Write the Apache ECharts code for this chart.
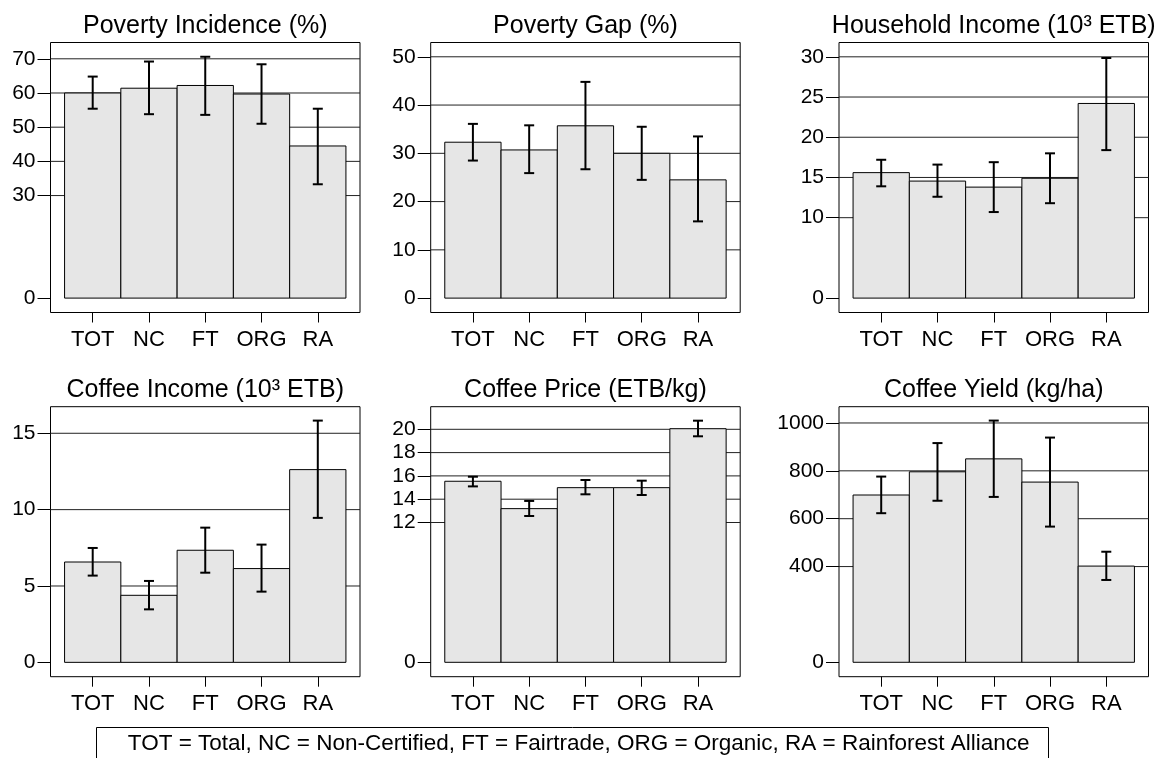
<!DOCTYPE html>
<html>
<head>
<meta charset="utf-8">
<script src="https://cdn.jsdelivr.net/npm/echarts@6/dist/echarts.min.js"></script>
<style>
html,body{margin:0;padding:0;background:#fff;}
#chart{width:1160px;height:758px;}
</style>
</head>
<body>
<div id="chart"></div>
<script>
const categories = ['TOT', 'NC', 'FT', 'ORG', 'RA'];
const legendText = 'TOT = Total, NC = Non-Certified, FT = Fairtrade, ORG = Organic, RA = Rainforest Alliance';

const povertyIncidence     = [60.0, 61.4, 62.2, 59.7, 44.5];
const povertyIncidenceLow  = [55.4, 53.8, 53.6, 51.0, 33.3];
const povertyIncidenceHigh = [64.8, 69.2, 70.6, 68.4, 55.4];
const povertyIncidenceTicks = [0, 30, 40, 50, 60, 70];

const povertyGap     = [32.3, 30.7, 35.7, 30.0, 24.5];
const povertyGapLow  = [28.5, 25.9, 26.7, 24.5, 15.9];
const povertyGapHigh = [36.1, 35.8, 44.8, 35.5, 33.5];
const povertyGapTicks = [0, 10, 20, 30, 40, 50];

const householdIncome     = [15.6, 14.55, 13.8, 14.9, 24.2];
const householdIncomeLow  = [13.9, 12.6, 10.7, 11.8, 18.4];
const householdIncomeHigh = [17.2, 16.6, 16.9, 18.0, 29.85];
const householdIncomeTicks = [0, 10, 15, 20, 25, 30];

const coffeeIncome     = [6.57, 4.39, 7.34, 6.14, 12.62];
const coffeeIncomeLow  = [5.68, 3.47, 5.87, 4.63, 9.46];
const coffeeIncomeHigh = [7.49, 5.33, 8.82, 7.71, 15.83];
const coffeeIncomeTicks = [0, 5, 10, 15];

const coffeePrice     = [15.54, 13.19, 14.99, 14.99, 20.05];
const coffeePriceLow  = [15.1, 12.56, 14.42, 14.36, 19.4];
const coffeePriceHigh = [15.93, 13.85, 15.65, 15.59, 20.74];
const coffeePriceTicks = [0, 12, 14, 16, 18, 20];

const coffeeYield     = [699, 796, 850, 753, 402];
const coffeeYieldLow  = [623, 675, 691, 567, 344];
const coffeeYieldHigh = [776, 916, 1010, 939, 462];
const coffeeYieldTicks = [0, 400, 600, 800, 1000];

const panels = [
  {title: 'Poverty Incidence (%)', mean: povertyIncidence, lo: povertyIncidenceLow, hi: povertyIncidenceHigh, ticks: povertyIncidenceTicks, min: -4.21, max: 74.77, left: 50.5, top: 42.5},
  {title: 'Poverty Gap (%)', mean: povertyGap, lo: povertyGapLow, hi: povertyGapHigh, ticks: povertyGapTicks, min: -2.98, max: 52.96, left: 430.7, top: 42.5},
  {title: 'Household Income (10³ ETB)', mean: householdIncome, lo: householdIncomeLow, hi: householdIncomeHigh, ticks: householdIncomeTicks, min: -1.79, max: 31.78, left: 839, top: 42.5},
  {title: 'Coffee Income (10³ ETB)', mean: coffeeIncome, lo: coffeeIncomeLow, hi: coffeeIncomeHigh, ticks: coffeeIncomeTicks, min: -0.94, max: 16.74, left: 50.5, top: 406.7},
  {title: 'Coffee Price (ETB/kg)', mean: coffeePrice, lo: coffeePriceLow, hi: coffeePriceHigh, ticks: coffeePriceTicks, min: -1.236, max: 21.94, left: 430.7, top: 406.7},
  {title: 'Coffee Yield (kg/ha)', mean: coffeeYield, lo: coffeeYieldLow, hi: coffeeYieldHigh, ticks: coffeeYieldTicks, min: -60.2, max: 1068, left: 839, top: 406.7}
];

const GW = 309.5, GH = 270;
const FONT = '"Liberation Sans", Arial, Helvetica, sans-serif';
const xPos = categories.map((c, i) => i + 1);

const grids = [], xAxes = [], yAxes = [], series = [], graphics = [];

panels.forEach((p, k) => {
  grids.push({left: p.left, top: p.top, width: GW, height: GH, show: true, borderColor: '#000', borderWidth: 1, backgroundColor: 'transparent', containLabel: false});
  xAxes.push({
    type: 'value', gridIndex: k, min: 0.25, max: 5.75,
    axisLine: {show: false, onZero: false},
    axisTick: {show: true, length: 10, inside: false, customValues: xPos, lineStyle: {color: '#000', width: 1}},
    axisLabel: {show: true, customValues: xPos, formatter: v => categories[Math.round(v) - 1] || '', fontSize: 22, fontFamily: FONT, color: '#000', margin: 16},
    splitLine: {show: false}
  });
  yAxes.push({
    type: 'value', gridIndex: k, min: p.min, max: p.max,
    axisLine: {show: false, onZero: false},
    axisTick: {show: true, length: 13, inside: false, customValues: p.ticks, lineStyle: {color: '#000', width: 1}},
    axisLabel: {show: true, customValues: p.ticks, formatter: v => String(v), fontSize: 21, fontFamily: FONT, color: '#000', margin: 15},
    splitLine: {show: false}
  });
  // grid lines at non-zero ticks
  series.push({
    type: 'custom', xAxisIndex: k, yAxisIndex: k, z: 1, silent: true, clip: false,
    data: p.ticks.filter(t => t !== 0).map(t => [1, t]),
    encode: {x: 0, y: 1},
    renderItem: (params, api) => {
      const y = api.coord([1, api.value(1)])[1];
      const cs = params.coordSys;
      return {type: 'line', shape: {x1: cs.x, y1: y, x2: cs.x + cs.width, y2: y}, style: {stroke: '#222', lineWidth: 1}};
    }
  });
  // bars
  series.push({
    type: 'custom', xAxisIndex: k, yAxisIndex: k, z: 2, silent: true, clip: false,
    data: p.mean.map((v, i) => [xPos[i], v]),
    encode: {x: 0, y: 1},
    renderItem: (params, api) => {
      const x = api.value(0), v = api.value(1);
      const a = api.coord([x - 0.5, v]);
      const b = api.coord([x + 0.5, 0]);
      return {type: 'rect', shape: {x: a[0], y: a[1], width: b[0] - a[0], height: b[1] - a[1]}, style: {fill: '#e6e6e6', stroke: '#000', lineWidth: 1}};
    }
  });
  // error bars
  series.push({
    type: 'custom', xAxisIndex: k, yAxisIndex: k, z: 3, silent: true, clip: false,
    data: p.lo.map((v, i) => [xPos[i], v, p.hi[i]]),
    encode: {x: 0, y: [1, 2]},
    renderItem: (params, api) => {
      const x = api.value(0);
      const lo = api.coord([x, api.value(1)]);
      const hi = api.coord([x, api.value(2)]);
      const w = 5;
      const st = {stroke: '#000', lineWidth: 2};
      return {type: 'group', children: [
        {type: 'line', shape: {x1: lo[0], y1: lo[1], x2: hi[0], y2: hi[1]}, style: st},
        {type: 'line', shape: {x1: lo[0] - w, y1: lo[1], x2: lo[0] + w, y2: lo[1]}, style: st},
        {type: 'line', shape: {x1: hi[0] - w, y1: hi[1], x2: hi[0] + w, y2: hi[1]}, style: st}
      ]};
    }
  });
  graphics.push({
    type: 'text', x: p.left + GW / 2, y: p.top - 16.5,
    style: {text: p.title, font: '25px ' + FONT, fill: '#000', align: 'center', verticalAlign: 'middle'}
  });
});

graphics.push({type: 'rect', shape: {x: 96.5, y: 727.5, width: 952, height: 60}, style: {fill: '#fff', stroke: '#000', lineWidth: 1}});
graphics.push({type: 'text', x: 578.7, y: 743.5, style: {text: legendText, font: '22.5px ' + FONT, fill: '#000', align: 'center', verticalAlign: 'middle'}});

const chart = echarts.init(document.getElementById('chart'), null, {renderer: 'canvas'});
chart.setOption({
  animation: false,
  backgroundColor: '#fff',
  grid: grids,
  xAxis: xAxes,
  yAxis: yAxes,
  series: series,
  graphic: graphics
});
</script>
</body>
</html>
